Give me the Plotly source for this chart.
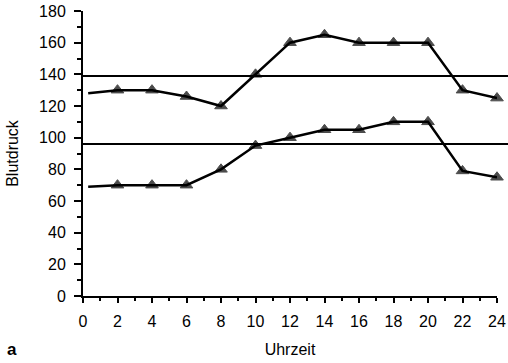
import plotly.graph_objects as go

hours = [0.3, 2, 4, 6, 8, 10, 12, 14, 16, 18, 20, 22, 24]
systolic = [128, 130, 130, 126, 120, 140, 160, 165, 160, 160, 160, 130, 125]
diastolic = [69, 70, 70, 70, 80, 95, 100, 105, 105, 110, 110, 79, 75]
ref_lines = [139, 96]
x_ticks = list(range(0, 25, 2))
y_ticks = list(range(0, 181, 20))

marker_sizes = [0] + [11] * (len(hours) - 1)

fig = go.Figure()
for vals in (systolic, diastolic):
    fig.add_trace(go.Scatter(
        x=hours, y=vals, mode="lines+markers",
        line=dict(color="black", width=2.5),
        marker=dict(symbol="triangle-up", size=marker_sizes, color="black",
                    line=dict(color="black", width=1)),
        showlegend=False, cliponaxis=False,
    ))

for v in ref_lines:
    fig.add_shape(type="line", xref="x domain", yref="y",
                  x0=0, x1=1.027, y0=v, y1=v,
                  line=dict(color="black", width=2))

font = "Liberation Sans, Arial, Helvetica, sans-serif"
fig.update_layout(
    width=508, height=363,
    margin=dict(l=83, r=11, t=11, b=67),
    plot_bgcolor="white", paper_bgcolor="white",
    font=dict(family=font, color="black", size=16),
    xaxis=dict(range=[0, 24], tickvals=x_ticks, showgrid=False, zeroline=False,
               automargin=False,
               showline=True, linecolor="black", linewidth=2,
               ticks="outside", ticklen=5, tickwidth=2, tickcolor="black",
               minor=dict(dtick=1, ticks="outside", ticklen=3, tickwidth=1.5, tickcolor="black"),
               ticklabelstandoff=5,
               title=dict(text="Uhrzeit", font=dict(size=16), standoff=15)),
    yaxis=dict(range=[0, 180], tickvals=y_ticks, showgrid=False, zeroline=False,
               automargin=False,
               showline=True, linecolor="black", linewidth=2,
               ticks="outside", ticklen=7, tickwidth=2, tickcolor="black",
               minor=dict(dtick=10, ticks="outside", ticklen=4, tickwidth=1.5, tickcolor="black"),
               ticklabelstandoff=5,
               title=dict(text="Blutdruck", font=dict(size=16), standoff=16)),
    annotations=[dict(text="<b>a</b>", xref="paper", yref="paper",
                      x=-0.1727, y=-0.189, showarrow=False, font=dict(size=17),
                      xanchor="center", yanchor="middle")],
)

fig.write_html("out.html", config={"displayModeBar": False},
               post_script="document.body.style.margin='0';document.body.style.overflow='hidden';")
